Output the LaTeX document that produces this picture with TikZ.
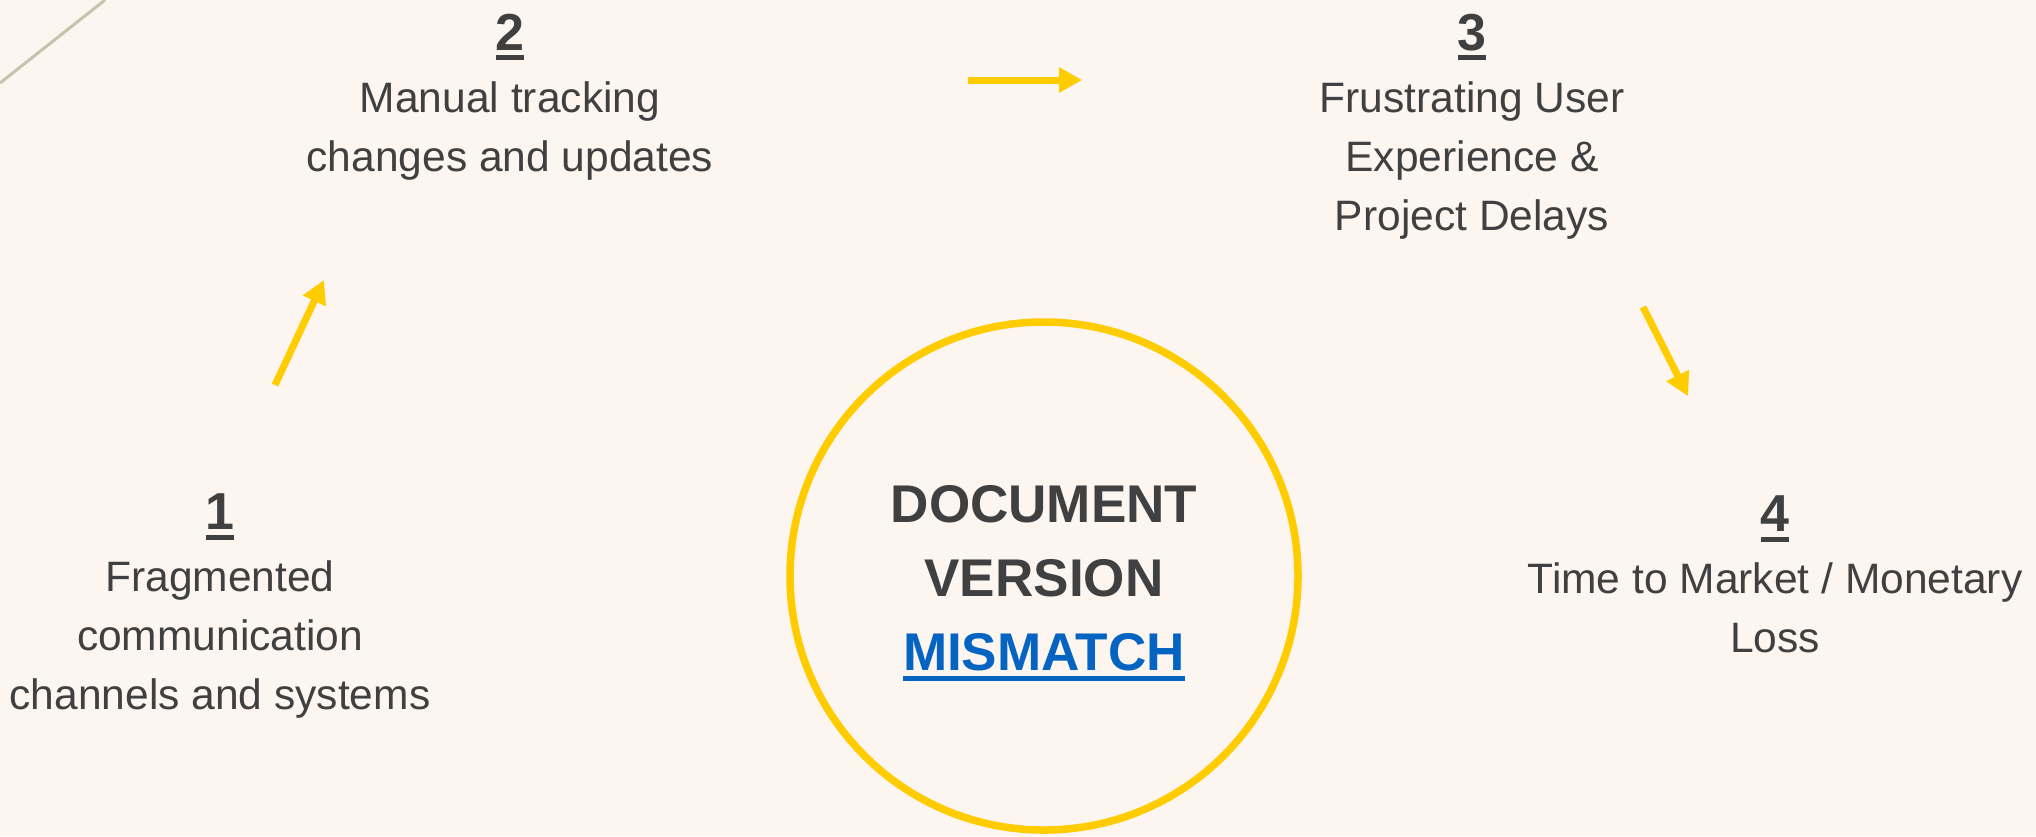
\documentclass[tikz,border=0pt]{standalone}
\usepackage{fontspec}
\setmainfont{Liberation Sans}
\usepackage{tikz}
\usetikzlibrary{arrows.meta}
\tikzset{>={Triangle[length=0.23cm,width=0.24cm]}}
\definecolor{mybg}{RGB}{252, 245, 240}
\definecolor{mygray}{RGB}{64, 64, 64}
\definecolor{myyellow}{RGB}{255, 204, 0}
\definecolor{myblue}{RGB}{5, 99, 193}
\definecolor{mytan}{RGB}{200, 195, 175}
\newsavebox{\ulsave}
\newcommand{\ulbox}[1]{\sbox\ulsave{#1}\rlap{\usebox\ulsave}\rule[-0.10cm]{\wd\ulsave}{0.05cm}}
\newcommand{\stepno}[1]{{\fontsize{14.8pt}{16.8pt}\selectfont\bfseries\ulbox{#1}}\\[0.03cm]}

\begin{document}
\begin{tikzpicture}[
  steptext/.style = {text = mygray, align = center, inner sep = 0pt, anchor = north,
                     font = \fontsize{12.1pt}{16.8pt}\selectfont},
  titletext/.style = {text = mygray, align = center, inner sep = 0pt, anchor = north,
                      font = \fontsize{15.1pt}{21.05pt}\selectfont\bfseries},
  ring/.style = {circle, draw = myyellow, line width = 0.075cm, minimum size = 5.08cm, inner sep = 0pt},
  flow/.style = {->, draw = myyellow, line width = 0.07cm}]
\fill[mybg] (0,0) rectangle (20.36,-8.36);
\useasboundingbox (0,0) rectangle (20.36,-8.36);
\draw[mytan, line width = 0.03cm] (0,-0.83) -- (1.05,0);

% the four steps
\node[steptext] (one) at (2.20,-4.93) {\stepno{1}Fragmented\\communication\\channels and systems};
\node[steptext] (two) at (5.10,-0.13) {\stepno{2}Manual tracking\\changes and updates};
\node[steptext] (three) at (14.72,-0.13) {\stepno{3}Frustrating User\\Experience \&\\Project Delays};
\node[steptext] (four) at (17.75,-4.95) {\stepno{4}Time to Market / Monetary\\Loss};

% centre
\node[ring] (ring) at (10.44,-5.76) {};
\node[titletext] (title) at (10.44,-4.85) {DOCUMENT\\VERSION\\\textcolor{myblue}{\ulbox{MISMATCH}}};

% arrows between the steps
\coordinate (a1s) at (2.75,-3.85);
\coordinate (a1e) at (3.24,-2.80);
\coordinate (a2s) at (9.68,-0.80);
\coordinate (a2e) at (10.82,-0.80);
\coordinate (a3s) at (16.43,-3.07);
\coordinate (a3e) at (16.88,-3.96);
\draw[flow] (a1s) -- (a1e);
\draw[flow] (a2s) -- (a2e);
\draw[flow] (a3s) -- (a3e);
\end{tikzpicture}
\end{document}
